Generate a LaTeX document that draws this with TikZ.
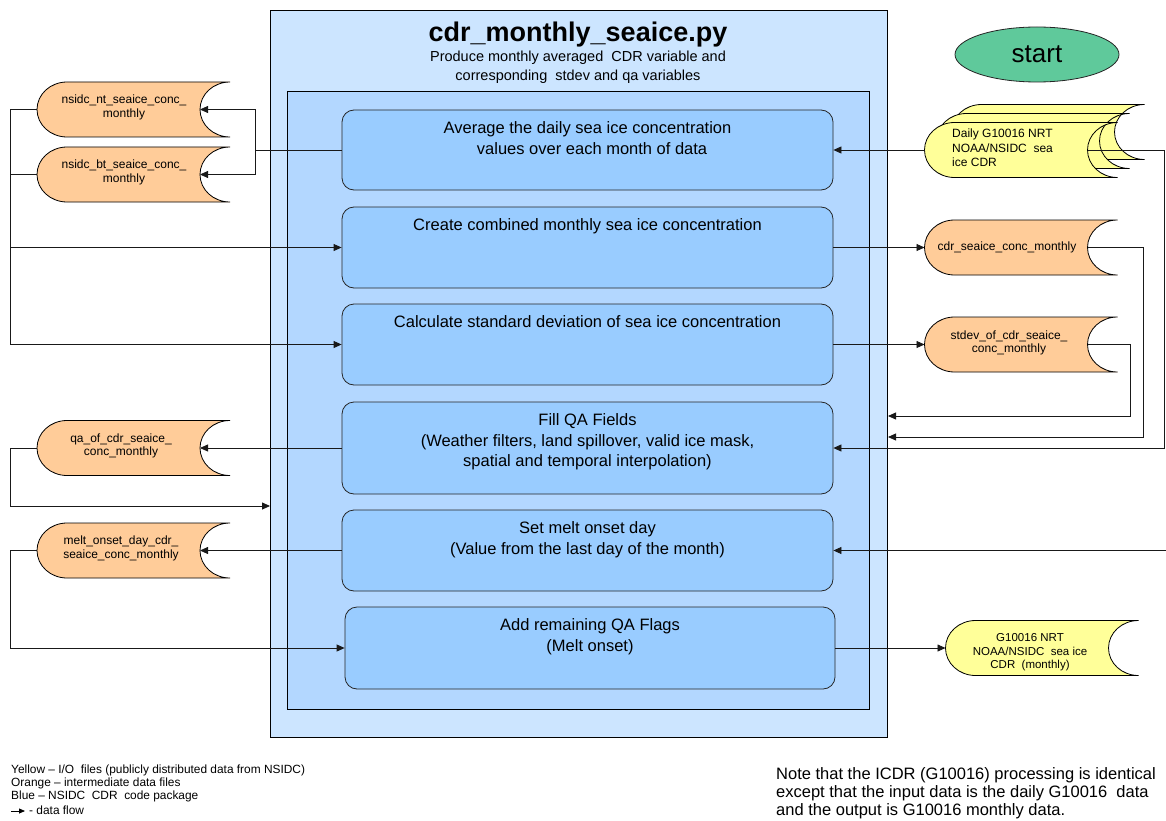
\documentclass[tikz,border=0pt]{standalone}
\usepackage{fontspec}
\setmainfont{Liberation Sans}
\usetikzlibrary{arrows.meta,shapes.geometric}
\definecolor{outerblue}{HTML}{CCE5FF}
\definecolor{innerblue}{HTML}{B3D7FF}
\definecolor{boxblue}{HTML}{99CCFF}
\definecolor{orangefill}{HTML}{FFCC99}
\definecolor{yellowfill}{HTML}{FFFF99}
\definecolor{startgreen}{HTML}{5FC99B}
\tikzset{
  pics/stored/.style={code={
    \path[pic actions, draw=black, line width=0.8pt]
      (-66.5,-27.5) -- (96.5,-27.5)
      .. controls (79.9,-27.5) and (66.5,-15.2) .. (66.5,0)
      .. controls (66.5,15.2) and (79.9,27.5) .. (96.5,27.5)
      -- (-66.5,27.5)
      .. controls (-83.1,27.5) and (-96.5,15.2) .. (-96.5,0)
      .. controls (-96.5,-15.2) and (-83.1,-27.5) .. (-66.5,-27.5) -- cycle;
    \coordinate (-tip) at (-96.5,0);
    \coordinate (-notch) at (66.5,0);
  }},
  proc/.style={draw=black!85, fill=boxblue, rounded corners=12pt, inner sep=0pt,
    line width=0.8pt, minimum width=491pt},
  ptxt/.style={anchor=north, align=center, inner sep=0pt,
    font=\fontsize{16.5}{20.5}\selectfont},
  stxt/.style={align=center, inner sep=0pt, font=\fontsize{12}{13.5}\selectfont},
  legtxt/.style={anchor=west, inner sep=0pt, font=\fontsize{11.9}{13}\selectfont},
  flow/.style={line width=0.8pt, draw=black!90},
  arr/.style={flow, -{Triangle[length=8pt,width=7pt]}},
}
\begin{document}
\begin{tikzpicture}[x=1pt,y=-1pt]
\useasboundingbox (0,0) rectangle (1166,821);
\fill[white] (0,0) rectangle (1166,821);

% containers
\node[draw=black, fill=outerblue, line width=0.8pt, minimum width=617pt, minimum height=727pt, inner sep=0pt] (outer) at (578.5,373.5) {};
\node[draw=black, fill=innerblue, line width=0.8pt, minimum width=582pt, minimum height=618pt, inner sep=0pt] (inner) at (578,400) {};
\node[font=\bfseries\fontsize{27}{30}\selectfont, inner sep=0pt] (title) at (578,35) {cdr\_monthly\_seaice.py};
\node[align=center, inner sep=0pt, font=\fontsize{14.5}{19}\selectfont] (subtitle) at (578,67.5) {Produce monthly averaged\ \ CDR variable\ and\\corresponding\ \ stdev and qa variables};

% process boxes
\node[proc, minimum height=80pt] (b1) at (587.5,150) {};
\node[proc, minimum height=81pt] (b2) at (587.5,247.5) {};
\node[proc, minimum height=81pt] (b3) at (587.5,344.5) {};
\node[proc, minimum height=92pt] (b4) at (587.5,448) {};
\node[proc, minimum height=81pt] (b5) at (587.5,550.5) {};
\node[proc, minimum height=82pt, minimum width=490pt] (b6) at (590,648) {};
\node[ptxt] (t1) at ([yshift=-12pt]b1.north) {Average the daily sea ice concentration\\\ \ values over each month of data};
\node[ptxt] (t2) at ([yshift=-12pt]b2.north) {Create combined monthly sea ice concentration};
\node[ptxt] (t3) at ([yshift=-12pt]b3.north) {Calculate standard deviation of sea ice concentration};
\node[ptxt] (t4) at ([yshift=-12pt]b4.north) {Fill QA Fields\\(Weather filters, land spillover, valid ice mask,\\spatial and temporal interpolation)};
\node[ptxt] (t5) at ([yshift=-12pt]b5.north) {Set melt onset day\\(Value from the last day of the month)};
\node[ptxt] (t6) at ([yshift=-12pt]b6.north) {Add remaining QA Flags\\(Melt onset)};

% start
\node[ellipse, draw=black!85, fill=startgreen, line width=0.8pt, minimum width=164pt, minimum height=55pt, inner sep=0pt, font=\fontsize{26}{30}\selectfont] (start) at (1037,54.5) {start};

% data stores, left
\pic[fill=orangefill] (nt) at (133.5,109.5) {stored};
\pic[fill=orangefill] (bt) at (133.5,174.5) {stored};
\pic[fill=orangefill] (qa) at (133.5,448) {stored};
\pic[fill=orangefill] (melt) at (133.5,550.5) {stored};
\node[stxt] (ntT) at (124,107.5) {nsidc\_nt\_seaice\_conc\_\\monthly};
\node[stxt] (btT) at (124,172.5) {nsidc\_bt\_seaice\_conc\_\\monthly};
\node[stxt] (qaT) at (121,446) {qa\_of\_cdr\_seaice\_\\conc\_monthly};
\node[stxt] (meltT) at (121,548.5) {melt\_onset\_day\_cdr\_\\seaice\_conc\_monthly};

% data stores, right
\pic[fill=yellowfill] (d3) at (1048,132) {stored};
\pic[fill=yellowfill] (d2) at (1033,141) {stored};
\pic[fill=yellowfill] (daily) at (1021,150) {stored};
\node[stxt, anchor=west, align=left, font=\fontsize{12}{14.5}\selectfont] (dailyT) at (952,148) {Daily G10016 NRT\\NOAA/NSIDC\ \ sea\\ice CDR};
\pic[fill=orangefill] (cdr) at (1021,247.5) {stored};
\node[stxt] (cdrT) at (1007,247.5) {cdr\_seaice\_conc\_monthly};
\pic[fill=orangefill] (stdev) at (1021,344.5) {stored};
\node[stxt] (stdevT) at (1009,343) {stdev\_of\_cdr\_seaice\_\\conc\_monthly};
\pic[fill=yellowfill] (out) at (1042,648) {stored};
\node[stxt, font=\fontsize{11.5}{13.5}\selectfont] (outT) at (1030,652.5) {G10016 NRT\\NOAA/NSIDC\ \ sea ice\\CDR\ \ (monthly)};

% left connectors
\coordinate (J1) at (255,150);
\coordinate (J1a) at (255,109.5);
\coordinate (J1b) at (255,174.5);
\draw[flow] (b1.west) -- (J1);
\draw[arr] (J1) -- (J1a) -- (nt-notch);
\draw[arr] (J1) -- (J1b) -- (bt-notch);

\coordinate (L1) at (10,109.5);
\coordinate (L2) at (10,174.5);
\coordinate (L3) at (10,247.5);
\coordinate (L4) at (10,344.5);
\draw[flow] (nt-tip) -- (L1) -- (L4);
\draw[flow] (bt-tip) -- (L2);
\draw[arr] (L3) -- (b2.west);
\draw[arr] (L4) -- (b3.west);

\draw[arr] (b4.west) -- (qa-notch);
\coordinate (L5) at (10,448);
\coordinate (L6) at (10,506);
\coordinate (E0) at (270,506);
\draw[arr] (qa-tip) -- (L5) -- (L6) -- (E0);

\draw[arr] (b5.west) -- (melt-notch);
\coordinate (L7) at (10,550.5);
\coordinate (L8) at (10,648);
\draw[arr] (melt-tip) -- (L7) -- (L8) -- (b6.west);

% right connectors
\draw[arr] (daily-tip) -- (b1.east);
\coordinate (R1) at (1164,150);
\coordinate (R2) at (1164,448);
\draw[arr] (daily-notch) -- (R1) -- (R2) -- (b4.east);

\draw[arr] (b2.east) -- (cdr-tip);
\coordinate (R3) at (1143,247.5);
\coordinate (R4) at (1143,437);
\coordinate (E1) at (888,437);
\draw[arr] (cdr-notch) -- (R3) -- (R4) -- (E1);

\draw[arr] (b3.east) -- (stdev-tip);
\coordinate (R5) at (1130,344.5);
\coordinate (R6) at (1130,416);
\coordinate (E2) at (888,416);
\draw[arr] (stdev-notch) -- (R5) -- (R6) -- (E2);

\coordinate (R7) at (1166,550.5);
\draw[arr] (R7) -- (b5.east);

\draw[arr] (b6.east) -- (out-tip);

% legend
\node[legtxt] (leg1) at (11,770) {Yellow – I/O\ \ files (publicly distributed data from NSIDC)};
\node[legtxt] (leg2) at (11,783) {Orange – intermediate data files};
\node[legtxt] (leg3) at (11,796) {Blue – NSIDC\ \ CDR\ \ code package};
\coordinate (la1) at (11,811);
\coordinate (la2) at (25,811);
\draw[line width=0.8pt, -{Triangle[length=6pt,width=5pt]}] (la1) -- (la2);
\node[legtxt] (leg4) at (29,810) {- data flow};

% note
\node[anchor=north west, align=left, inner sep=0pt, font=\fontsize{16.5}{18}\selectfont] (note) at (776,767) {Note that the ICDR (G10016) processing is identical\\except that the input data is the daily G10016\ \ data\\and the output is G10016 monthly data.};
\end{tikzpicture}
\end{document}
